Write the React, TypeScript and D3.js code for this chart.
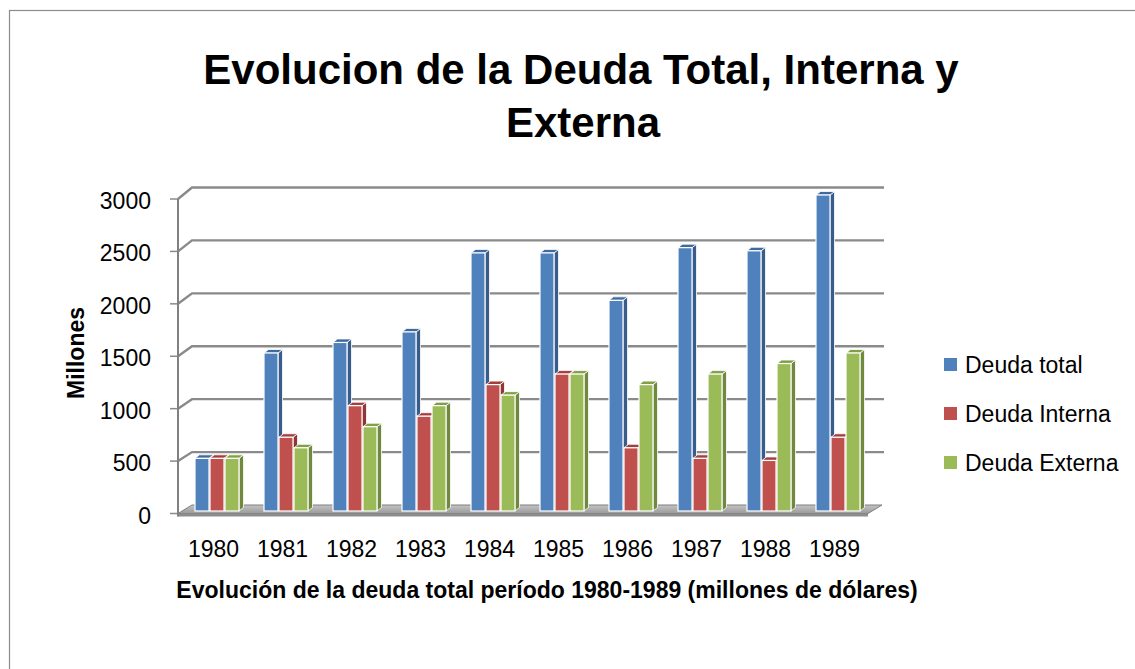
import { useEffect, useRef } from 'react';
import * as d3 from 'd3';

const years = ['1980', '1981', '1982', '1983', '1984', '1985', '1986', '1987', '1988', '1989'];
const series = ['Deuda total', 'Deuda Interna', 'Deuda Externa'];
const deudaTotal = [500, 1500, 1600, 1700, 2450, 2450, 2000, 2500, 2470, 3000];
const deudaInterna = [500, 700, 1000, 900, 1200, 1300, 600, 500, 480, 700];
const deudaExterna = [500, 600, 800, 1000, 1100, 1300, 1200, 1300, 1400, 1500];
const yTicks = [0, 500, 1000, 1500, 2000, 2500, 3000];

const W = 1135;
const H = 669;

const App = () => {
  const ref = useRef<SVGSVGElement>(null);

  useEffect(() => {
    if (!ref.current) return;
    const svg = d3.select(ref.current);
    svg.selectAll('*').remove();

    const font = "'Liberation Sans', Arial, sans-serif";
    const values = [deudaTotal, deudaInterna, deudaExterna];
    const fills = ['#4F81BD', '#C0504D', '#9BBB59'];
    const sides = ['#385D8A', '#8C3836', '#71893F'];
    const tops = ['#3F6A9E', '#A23E3B', '#81A046'];

    // depth offset of the 3d box
    const dx = 14;
    const dy = -9;

    const x = d3.scaleBand().domain(years).range([178, 868]);
    const x1 = d3.scaleBand().domain(series).range([17, 62]);
    const yFront = d3.scaleLinear().domain([0, 3000]).range([513.5, 199]);
    const yBack = d3.scaleLinear().domain([0, 3000]).range([505, 187.5]);
    const yBar = d3.scaleLinear().domain([0, 3000]).range([511, 195]);

    // chart border
    svg.append('rect')
      .attr('x', 9.5).attr('y', 10.5)
      .attr('width', W + 20).attr('height', H + 20)
      .attr('fill', 'white')
      .attr('stroke', '#8c8c8c')
      .attr('stroke-width', 1.2);

    // title
    const title = svg.append('text')
      .attr('text-anchor', 'middle')
      .style('font-family', font)
      .style('font-weight', 'bold')
      .style('font-size', '42px')
      .style('fill', '#000');
    title.append('tspan').attr('x', 581).attr('y', 84).text('Evolucion de la Deuda Total, Interna y');
    title.append('tspan').attr('x', 583).attr('y', 137).text('Externa');

    const grid = '#8a8a8a';
    const x0 = x.range()[0];
    const xEnd = x.range()[1];

    // gridlines: side wall diagonal + back wall line
    yTicks.forEach(t => {
      if (t > 0) {
        svg.append('path')
          .attr('d', `M${x0},${yFront(t)} L${x0 + dx},${yBack(t)} L${xEnd + dx + 2},${yBack(t)}`)
          .attr('fill', 'none')
          .attr('stroke', grid)
          .attr('stroke-width', 2.4);
      }
      svg.append('line')
        .attr('x1', x0 - 8).attr('x2', x0)
        .attr('y1', yFront(t)).attr('y2', yFront(t))
        .attr('stroke', grid).attr('stroke-width', 1.5);
      svg.append('text')
        .attr('x', 151)
        .attr('y', yFront(t) + 10)
        .attr('text-anchor', 'end')
        .style('font-family', font)
        .style('font-size', '23px')
        .style('fill', '#000')
        .text(t);
    });

    // floor
    const floorGrad = svg.append('defs').append('linearGradient')
      .attr('id', 'floorGrad').attr('x1', 0).attr('x2', 0).attr('y1', 0).attr('y2', 1);
    floorGrad.append('stop').attr('offset', '0%').attr('stop-color', '#c4c4c4');
    floorGrad.append('stop').attr('offset', '100%').attr('stop-color', '#9a9a9a');
    svg.append('path')
      .attr('d', `M${x0},${yFront(0)} L${x0 + dx},${yBack(0)} L${xEnd + dx},${yBack(0)} L${xEnd},${yFront(0)} Z`)
      .attr('fill', 'url(#floorGrad)')
      .attr('stroke', '#7f7f7f')
      .attr('stroke-width', 1);
    svg.append('path')
      .attr('d', `M${x0},${yFront(0)} L${xEnd},${yFront(0)} L${xEnd},${yFront(0) + 3} L${x0},${yFront(0) + 3} Z`)
      .attr('fill', '#8d8d8d');

    // value axis line
    svg.append('line')
      .attr('x1', x0).attr('x2', x0)
      .attr('y1', yFront(3000)).attr('y2', yFront(0) + 3)
      .attr('stroke', '#808080').attr('stroke-width', 2);

    // bars
    const bdx = 4.5;
    const bdy = -3.5;
    const bw = x1.bandwidth() - 1;
    years.forEach((yr, i) => {
      series.forEach((s, k) => {
        const v = values[k][i];
        const left = x(yr)! + x1(s)!;
        const right = left + bw;
        const top = yBar(v);
        const bottom = yBar(0);
        const g = svg.append('g');
        g.append('path')
          .attr('d', `M${right},${top} L${right + bdx},${top + bdy} L${right + bdx},${bottom + bdy} L${right},${bottom} Z`)
          .attr('fill', sides[k])
          .attr('stroke', 'white').attr('stroke-width', 0.8);
        g.append('path')
          .attr('d', `M${left},${top} L${left + bdx},${top + bdy} L${right + bdx},${top + bdy} L${right},${top} Z`)
          .attr('fill', tops[k])
          .attr('stroke', 'white').attr('stroke-width', 0.8);
        g.append('rect')
          .attr('x', left).attr('y', top)
          .attr('width', bw).attr('height', bottom - top)
          .attr('fill', fills[k])
          .attr('stroke', 'white').attr('stroke-width', 1.2);
      });

      svg.append('text')
        .attr('x', x(yr)! + x.bandwidth() / 2 + 1)
        .attr('y', 557)
        .attr('text-anchor', 'middle')
        .style('font-family', font)
        .style('font-size', '23px')
        .style('fill', '#000')
        .text(yr);
    });

    // axis titles
    svg.append('text')
      .attr('x', 547)
      .attr('y', 598)
      .attr('text-anchor', 'middle')
      .style('font-family', font)
      .style('font-weight', 'bold')
      .style('font-size', '23px')
      .style('fill', '#000')
      .text('Evolución de la deuda total período 1980-1989 (millones de dólares)');

    svg.append('text')
      .attr('transform', 'translate(84,353) rotate(-90)')
      .attr('text-anchor', 'middle')
      .style('font-family', font)
      .style('font-weight', 'bold')
      .style('font-size', '23px')
      .style('fill', '#000')
      .text('Millones');

    // legend
    series.forEach((s, k) => {
      const ly = 358 + k * 49;
      svg.append('rect')
        .attr('x', 944).attr('y', ly)
        .attr('width', 13).attr('height', 13)
        .attr('fill', fills[k]);
      svg.append('text')
        .attr('x', 965)
        .attr('y', ly + 15)
        .style('font-family', font)
        .style('font-size', '23px')
        .style('fill', '#000')
        .text(s);
    });
  }, []);

  return (
    <svg
      ref={ref}
      width={W}
      height={H}
      style={{ position: 'absolute', left: 0, top: 0, background: 'white' }}
    />
  );
};

export default App;
